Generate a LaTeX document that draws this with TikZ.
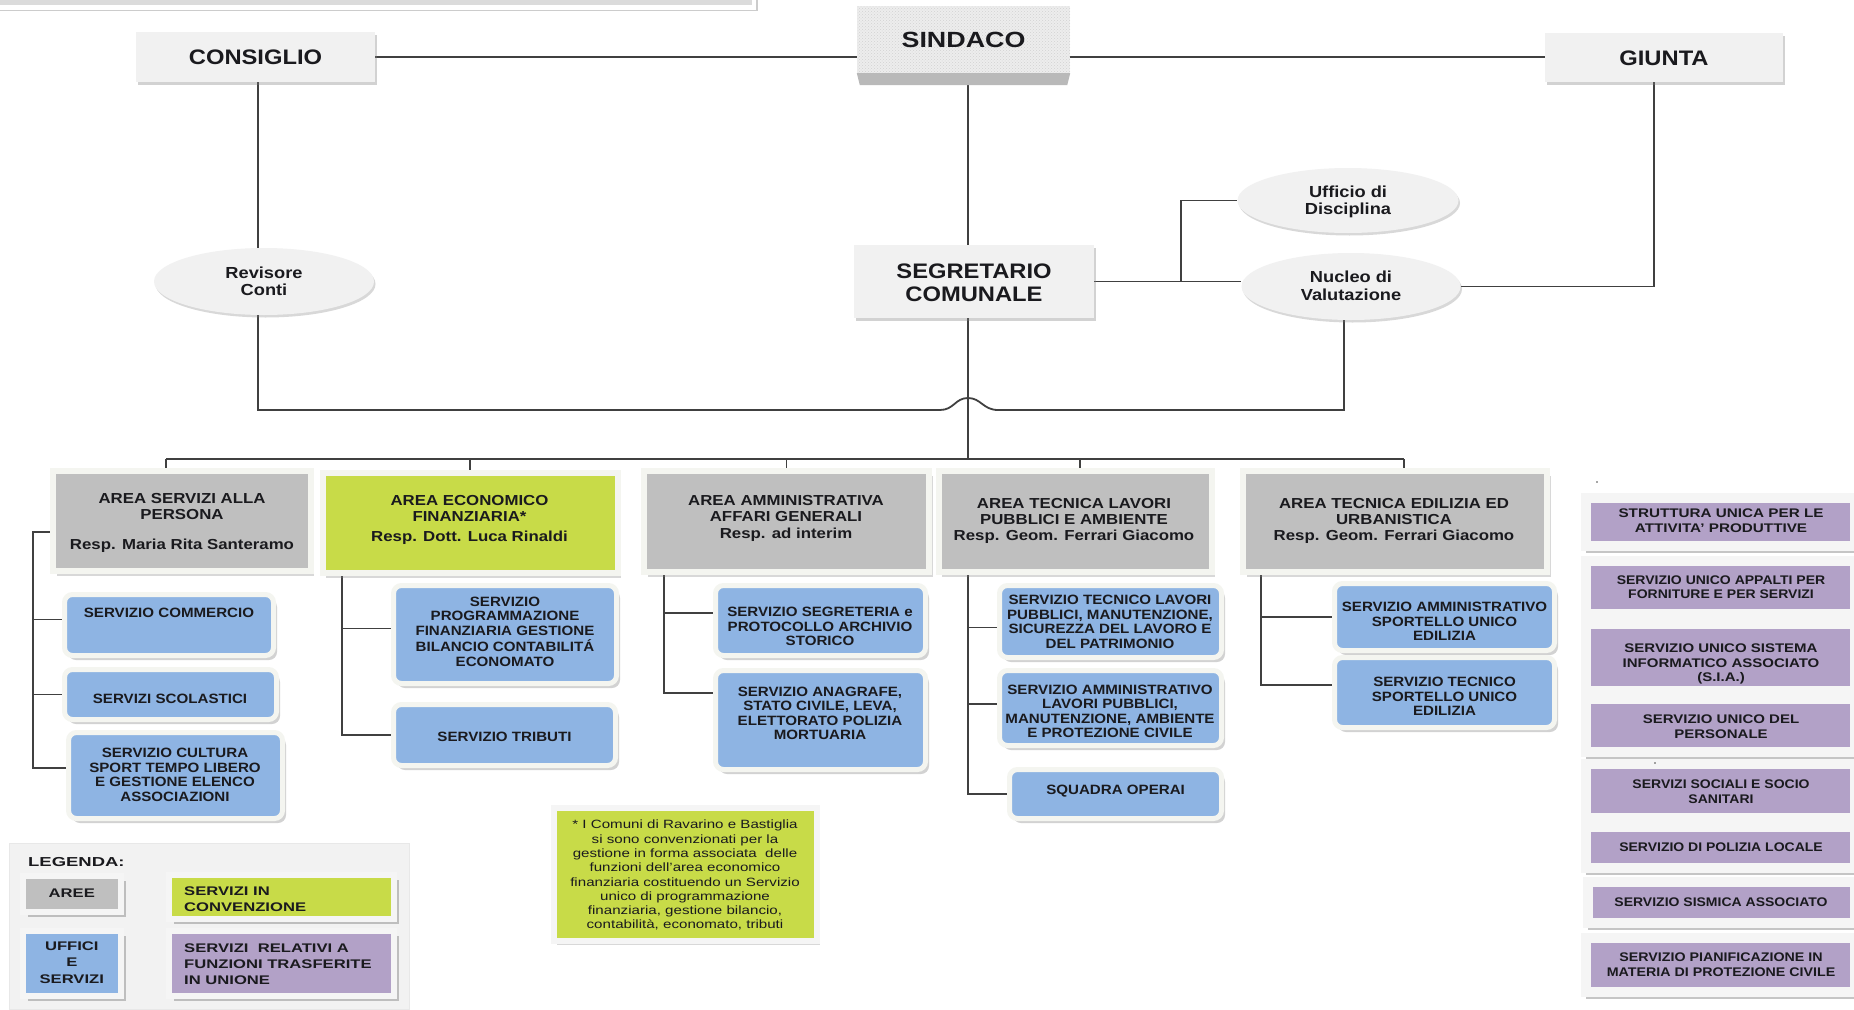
\documentclass[tikz,border=0pt]{standalone}
\usepackage{fontspec}
\setmainfont{Liberation Sans}
\usepackage{graphicx}
\usetikzlibrary{shapes.geometric,shadows,patterns}
\pgfdeclarelayer{bg}
\pgfsetlayers{bg,main}
\definecolor{lightbox}{RGB}{241,241,241}
\definecolor{areac}{RGB}{191,191,191}
\definecolor{greenc}{RGB}{200,219,72}
\definecolor{bluec}{RGB}{142,180,227}
\definecolor{purpc}{RGB}{178,161,199}
\definecolor{linec}{RGB}{64,64,64}
\definecolor{txtc}{RGB}{26,26,30}
\definecolor{framec}{RGB}{244,245,240}
\definecolor{panelc}{RGB}{242,242,242}
\newcommand{\sxc}[2]{\scalebox{#1}[1]{\begin{tabular}{@{}c@{}}#2\end{tabular}}}
\newcommand{\sxl}[2]{\scalebox{#1}[1]{\begin{tabular}{@{}l@{}}#2\end{tabular}}}
\newcommand{\sxr}[3]{\raisebox{-#2}[\height][\depth]{\sxc{#1}{#3}}}
\begin{document}
\begin{tikzpicture}[x=1pt,y=-1pt,
 conn/.style={draw=linec,line width=1.8pt},
 lbox/.style={rectangle,fill=lightbox,inner sep=0pt,text=txtc,font=\fontsize{21}{22.5}\selectfont\bfseries,drop shadow={shadow xshift=2pt,shadow yshift=-2.5pt,opacity=0.35}},
 granite/.style={rectangle,inner sep=0pt,preaction={fill=gray!14},pattern=crosshatch dots,pattern color=gray!35,text=txtc,font=\fontsize{22}{24}\selectfont\bfseries},
 ell/.style={ellipse,fill=lightbox,inner sep=0pt,text=txtc,font=\fontsize{16}{17.5}\selectfont\bfseries,drop shadow={shadow xshift=1.5pt,shadow yshift=-2.5pt,opacity=0.3}},
 areabox/.style={rectangle,fill=areac,draw=framec,line width=6pt,inner sep=0pt,drop shadow={shadow xshift=3.5pt,shadow yshift=-5pt,opacity=0.3}},
 areatxt/.style={anchor=north,inner sep=0pt,text=txtc,font=\fontsize{14.5}{16}\selectfont\bfseries},
 bluebox/.style={rectangle,rounded corners=8pt,fill=bluec,draw=framec,line width=5pt,inner sep=0pt,drop shadow={shadow xshift=3.5pt,shadow yshift=-4.5pt,opacity=0.35}},
 bluetxt/.style={anchor=north,inner sep=0pt,text=txtc,font=\fontsize{13.5}{14.6}\selectfont\bfseries},
 purpbox/.style={rectangle,fill=purpc,draw=gray!8,line width=10pt,inner sep=0pt,minimum width=269pt,drop shadow={shadow xshift=0pt,shadow yshift=-7pt,opacity=0.45}},
 purptxt/.style={anchor=north,inner sep=0pt,text=txtc,font=\fontsize{12.5}{14.6}\selectfont\bfseries},
 legbox/.style={rectangle,draw=white!96!black,line width=6pt,inner sep=0pt,text=txtc,font=\fontsize{12.5}{16.3}\selectfont\bfseries,drop shadow={shadow xshift=5pt,shadow yshift=-5pt,opacity=0.45}},
 legtxt/.style={anchor=north west,inner sep=0pt,text=txtc,font=\fontsize{12.5}{16.3}\selectfont\bfseries},
 fnbox/.style={rectangle,fill=greenc,draw=gray!8,line width=6pt,inner sep=0pt,drop shadow={shadow xshift=3pt,shadow yshift=-4pt,opacity=0.3}},
]
\useasboundingbox (0,0) rectangle (1854,1009);

% top strip
\fill[gray!28] (0,0) rectangle (752,4.5);
\draw[gray!40,line width=1.2pt] (0,10.5) -- (757,10.5) -- (757,0);

% top level
\node[lbox,minimum width=239pt,minimum height=50pt] (con) at (255.5,57) {\sxr{1.13}{3.5pt}{CONSIGLIO}};
\node[granite,minimum width=213pt,minimum height=67pt] (sin) at (963.5,39.5) {\sxr{1.22}{3.5pt}{SINDACO}};
\fill[gray!55] (sin.south west) -- (sin.south east) -- ([xshift=-3pt,yshift=-12pt]sin.south east) -- ([xshift=3pt,yshift=-12pt]sin.south west) -- cycle;
\node[lbox,minimum width=238pt,minimum height=49pt] (giu) at (1664,57.5) {\sxr{1.13}{3.5pt}{GIUNTA}};
\node[lbox,minimum width=240pt,minimum height=73pt] (seg) at (974,281.5) {\sxr{1.13}{4pt}{SEGRETARIO\\COMUNALE}};
\node[ell,minimum width=220pt,minimum height=67pt] (rev) at (264,281.5) {\sxr{1.14}{2pt}{Revisore\\Conti}};
\node[ell,minimum width=221pt,minimum height=65pt] (uff) at (1348,200.5) {\sxr{1.14}{2pt}{Ufficio di\\Disciplina}};
\node[ell,minimum width=219pt,minimum height=67pt] (nuc) at (1351,286.5) {\sxr{1.14}{1.5pt}{Nucleo di\\Valutazione}};

% areas
\node[areabox,minimum width=257.5pt,minimum height=100.5pt] (a1) at (181.75,520.75) {};
\node[areabox,fill=greenc,minimum width=295pt,minimum height=100pt] (a2) at (470,522.5) {};
\node[areabox,minimum width=285pt,minimum height=101pt] (a3) at (786.5,521) {};
\node[areabox,minimum width=273pt,minimum height=101pt] (a4) at (1075,521) {};
\node[areabox,minimum width=304pt,minimum height=101pt] (a5) at (1395,521) {};
\node[areatxt] (a1t) at (182,492) {\sxc{1.16}{AREA SERVIZI ALLA\\PERSONA\\[14pt]Resp. Maria Rita Santeramo}};
\node[areatxt] (a2t) at (469.5,494) {\sxc{1.16}{AREA ECONOMICO\\FINANZIARIA*\\[4pt]Resp. Dott. Luca Rinaldi}};
\node[areatxt] (a3t) at (786,494) {\sxc{1.16}{AREA AMMINISTRATIVA\\AFFARI GENERALI\\[1pt]Resp. ad interim}};
\node[areatxt] (a4t) at (1074,497) {\sxc{1.16}{AREA TECNICA LAVORI\\PUBBLICI E AMBIENTE\\Resp. Geom. Ferrari Giacomo}};
\node[areatxt] (a5t) at (1394,497) {\sxc{1.16}{AREA TECNICA EDILIZIA ED\\URBANISTICA\\Resp. Geom. Ferrari Giacomo}};

% services (blue)
\node[bluebox,minimum width=209pt,minimum height=61pt] (s11) at (169,625) {};
\node[bluebox,minimum width=212pt,minimum height=50pt] (s12) at (170.5,694.5) {};
\node[bluebox,minimum width=214pt,minimum height=86pt] (s13) at (175.5,775.5) {};
\node[bluebox,minimum width=223pt,minimum height=98pt] (s21) at (505,634.5) {};
\node[bluebox,minimum width=222pt,minimum height=61pt] (s22) at (504.5,735) {};
\node[bluebox,minimum width=210pt,minimum height=70pt] (s31) at (820.5,620.5) {};
\node[bluebox,minimum width=210pt,minimum height=99pt] (s32) at (820.5,720) {};
\node[bluebox,minimum width=222pt,minimum height=72pt] (s41) at (1110.5,621.5) {};
\node[bluebox,minimum width=222pt,minimum height=75pt] (s42) at (1110.5,708) {};
\node[bluebox,minimum width=212pt,minimum height=49pt] (s43) at (1115.5,794) {};
\node[bluebox,minimum width=220pt,minimum height=67pt] (s51) at (1444.5,617) {};
\node[bluebox,minimum width=220pt,minimum height=70pt] (s52) at (1444.5,692.5) {};

\node[bluetxt] (s11t) at (169,606.6) {\sxc{1.12}{SERVIZIO COMMERCIO}};
\node[bluetxt] (s12t) at (170,692.6) {\sxc{1.12}{SERVIZI SCOLASTICI}};
\node[bluetxt] (s13t) at (175,747.3) {\sxc{1.12}{SERVIZIO CULTURA\\SPORT TEMPO LIBERO\\E GESTIONE ELENCO\\ASSOCIAZIONI}};
\node[bluetxt] (s21t) at (505,595.6) {\sxc{1.12}{SERVIZIO\\PROGRAMMAZIONE\\FINANZIARIA GESTIONE\\BILANCIO CONTABILITÁ\\ECONOMATO}};
\node[bluetxt] (s22t) at (504.5,731.3) {\sxc{1.12}{SERVIZIO TRIBUTI}};
\node[bluetxt] (s31t) at (820,606.3) {\sxc{1.12}{SERVIZIO SEGRETERIA e\\PROTOCOLLO ARCHIVIO\\STORICO}};
\node[bluetxt] (s32t) at (820,685.6) {\sxc{1.12}{SERVIZIO ANAGRAFE,\\STATO CIVILE, LEVA,\\ELETTORATO POLIZIA\\MORTUARIA}};
\node[bluetxt] (s41t) at (1110,594) {\sxc{1.12}{SERVIZIO TECNICO LAVORI\\PUBBLICI, MANUTENZIONE,\\SICUREZZA DEL LAVORO E\\DEL PATRIMONIO}};
\node[bluetxt] (s42t) at (1110,683.6) {\sxc{1.12}{SERVIZIO AMMINISTRATIVO\\LAVORI PUBBLICI,\\MANUTENZIONE, AMBIENTE\\E PROTEZIONE CIVILE}};
\node[bluetxt] (s43t) at (1115.6,784) {\sxc{1.12}{SQUADRA OPERAI}};
\node[bluetxt] (s51t) at (1444.5,601.3) {\sxc{1.12}{SERVIZIO AMMINISTRATIVO\\SPORTELLO UNICO\\EDILIZIA}};
\node[bluetxt] (s52t) at (1444.5,676.3) {\sxc{1.12}{SERVIZIO TECNICO\\SPORTELLO UNICO\\EDILIZIA}};

% union services (purple)
\node[purpbox,minimum height=48pt] (p1) at (1720.5,522) {};
\node[purpbox,minimum height=53pt] (p2) at (1720.5,587.5) {};
\node[purpbox,minimum height=67pt] (p3) at (1720.5,657.5) {};
\node[purpbox,minimum height=53pt] (p4) at (1720.5,725.5) {};
\node[purpbox,minimum height=54pt] (p5) at (1720.5,791) {};
\node[purpbox,minimum height=41pt] (p6) at (1720.5,847.5) {};
\node[purpbox,minimum height=41pt,minimum width=267pt] (p7) at (1721.5,902.5) {};
\node[purpbox,minimum height=54pt] (p8) at (1720.5,965) {};
\node[purptxt] (p1t) at (1721,507.4) {\sxc{1.22}{STRUTTURA UNICA PER LE\\ATTIVITA’ PRODUTTIVE}};
\node[purptxt] (p2t) at (1721,573.7) {\sxc{1.12}{SERVIZIO UNICO APPALTI PER\\FORNITURE E PER SERVIZI}};
\node[purptxt] (p3t) at (1721,642) {\sxc{1.2}{SERVIZIO UNICO SISTEMA\\INFORMATICO ASSOCIATO\\(S.I.A.)}};
\node[purptxt] (p4t) at (1721,713.4) {\sxc{1.2}{SERVIZIO UNICO DEL\\PERSONALE}};
\node[purptxt] (p5t) at (1721,778.4) {\sxc{1.12}{SERVIZI SOCIALI E SOCIO\\SANITARI}};
\node[purptxt] (p6t) at (1721,841) {\sxc{1.12}{SERVIZIO DI POLIZIA LOCALE}};
\node[purptxt] (p7t) at (1721,896) {\sxc{1.12}{SERVIZIO SISMICA ASSOCIATO}};
\node[purptxt] (p8t) at (1721,951) {\sxc{1.14}{SERVIZIO PIANIFICAZIONE IN\\MATERIA DI PROTEZIONE CIVILE}};
\fill[black!70] (1597,482) circle (0.9pt);
\fill[black!70] (1655,763) circle (0.9pt);

% footnote
\node[fnbox,minimum width=263pt,minimum height=133pt] (fn) at (685.5,874.5) {};
\node[anchor=north,inner sep=0pt,text=txtc,font=\fontsize{12}{14.3}\selectfont] (fnt) at (685,818.6) {\sxc{1.26}{* I Comuni di Ravarino e Bastiglia\\si sono convenzionati per la\\gestione in forma associata\ \ delle\\funzioni dell’area economico\\finanziaria costituendo un Servizio\\unico di programmazione\\finanziaria, gestione bilancio,\\contabilità, economato, tributi}};

% legend
\node[rectangle,fill=panelc,draw=gray!18,line width=0.8pt,minimum width=400pt,minimum height=166pt,inner sep=0pt] (legend) at (209,926) {};
\node[anchor=west,inner sep=0pt,text=txtc,font=\fontsize{13}{15}\selectfont\bfseries] (legt) at (28,862) {\scalebox{1.42}[1]{LEGENDA:}};
\node[legbox,fill=areac,minimum width=97.6pt,minimum height=36pt] (leg1) at (71.8,894) {\sxc{1.33}{AREE}};
\node[legbox,fill=greenc,minimum width=224.5pt,minimum height=44pt] (leg2) at (281.25,897) {};
\node[legtxt] (leg2t) at (184,884) {\sxl{1.33}{SERVIZI IN\\CONVENZIONE}};
\node[legbox,fill=bluec,minimum width=97.6pt,minimum height=65pt] (leg3) at (71.8,963.5) {\sxc{1.33}{UFFICI\\E\\SERVIZI}};
\node[legbox,fill=purpc,minimum width=224.5pt,minimum height=65pt] (leg4) at (281.25,963.5) {};
\node[legtxt] (leg4t) at (184,940.4) {\sxl{1.33}{SERVIZI\ \ RELATIVI A\\FUNZIONI TRASFERITE\\IN UNIONE}};

% helper coordinates
\coordinate (rvx) at (258,0);
\coordinate (hy) at (0,410);
\coordinate (h1) at (940,410);
\coordinate (hp) at (968,398);
\coordinate (h2) at (998,410);
\coordinate (jx) at (1344,410);
\coordinate (trx) at (968,0);
\coordinate (busy) at (0,459);
\coordinate (bxx) at (1181,0);
\coordinate (gx) at (1654,0);
\coordinate (b1) at (166,459);
\coordinate (b4) at (1080,459);
\coordinate (b5) at (1404,459);
\coordinate (sp1) at (33,0);
\coordinate (sp2) at (342,0);
\coordinate (sp3) at (664,0);
\coordinate (sp4) at (968,0);
\coordinate (sp5) at (1261,0);

\begin{pgfonlayer}{bg}
\fill[white] (0,0) rectangle (1854,1009);
\draw[conn] (con.east) -- (giu.west |- con.east);
\draw[conn] (con.south -| rvx) -- (rev.north -| rvx);
\draw[conn] (rev.south -| rvx) -- (rvx |- hy) -- (h1) .. controls (954,410) and (955,398) .. (hp) .. controls (981,398) and (983,410) .. (h2) -- (jx) -- (jx |- nuc.south);
\draw[conn] (sin.south -| trx) -- (seg.north -| trx);
\draw[conn] (seg.south -| trx) -- (trx |- busy);
\draw[conn] (seg.east) -- (seg.east -| nuc.west);
\draw[conn] (seg.east -| bxx) |- (uff.west);
\draw[conn] (nuc.east) -| (giu.south -| gx);
\draw[conn] (b1) -- (b5);
\draw[conn] (b1) -- (b1 |- a1.north);
\draw[conn] (a2.north |- b1) -- (a2.north);
\draw[conn] (a3.north |- b1) -- (a3.north);
\draw[conn] (b4) -- (b4 |- a4.north);
\draw[conn] (b5) -- (b5 |- a5.north);
\draw[conn] (a1.185) -- (a1.185 -| sp1) |- (s13.176);
\draw[conn] (sp1 |- s11.177) -- (s11.177);
\draw[conn] (sp1 |- s12.west) -- (s12.west);
\draw[conn] (a2.south -| sp2) |- (s22.west);
\draw[conn] (sp2 |- s21.177) -- (s21.177);
\draw[conn] (a3.south -| sp3) |- (s32.166);
\draw[conn] (sp3 |- s31.176) -- (s31.176);
\draw[conn] (a4.south -| sp4) |- (s43.west);
\draw[conn] (sp4 |- s41.183) -- (s41.183);
\draw[conn] (sp4 |- s42.178) -- (s42.178);
\draw[conn] (a5.south -| sp5) |- (s52.176);
\draw[conn] (sp5 |- s51.west) -- (s51.west);
\end{pgfonlayer}
\end{tikzpicture}
\end{document}
